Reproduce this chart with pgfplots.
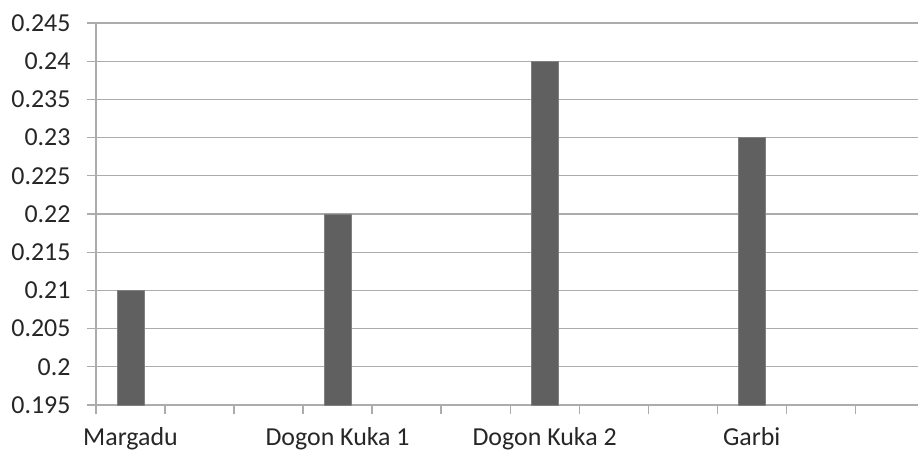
\documentclass[border=0pt]{standalone}
\usepackage{pgfplots}
\pgfplotsset{compat=1.18}
\usepackage{fontspec}
\setmainfont{Carlito}
\definecolor{barfill}{RGB}{96,96,96}
\definecolor{gridgray}{RGB}{172,172,172}
\begin{document}
\begin{tikzpicture}
\begin{axis}[
  name=main,
  scale only axis,
  width=822bp, height=382bp,
  xmin=-0.5, xmax=11.41,
  ymin=0.195, ymax=0.245,
  ytick distance=0.005,
  xtick={0,3,6,9},
  xticklabels={Margadu,Dogon Kuka 1,Dogon Kuka 2,Garbi},
  minor xtick={-0.5,0.5,...,10.5},
  major x tick style={draw=none},
  axis lines*=left,
  axis line style={draw=gridgray, line width=1.2bp},
  every tick/.style={draw=gridgray, line width=1.2bp},
  tick align=outside,
  major tick length=9bp,
  minor tick length=9bp,
  ymajorgrids,
  grid style={draw=gridgray, line width=1.2bp},
  yticklabel style={/pgf/number format/fixed, /pgf/number format/precision=3, /pgf/number format/assume math mode=true, xshift=-13bp},
  ticklabel style={font=\fontsize{26}{30}\selectfont, text=black!85},
  xticklabel style={yshift=-10bp},
  clip=false,
]
\addplot[ybar, bar width=0.39, fill=barfill, draw=barfill!80!white] coordinates {
  (0,0.21) (3,0.22) (6,0.24) (9,0.23)
};
\end{axis}
\pgfresetboundingbox
\path (main.south west) ++(-96bp,-59bp) rectangle ([yshift=23bp]main.north east);
\end{tikzpicture}
\end{document}
